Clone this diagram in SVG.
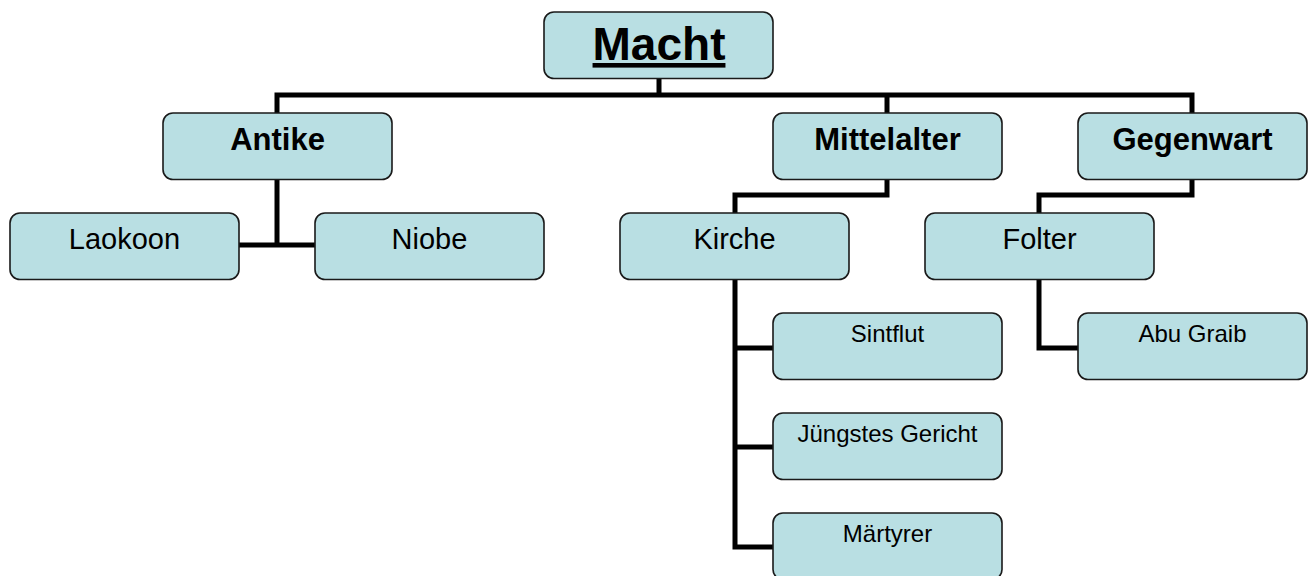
<svg xmlns="http://www.w3.org/2000/svg" width="1316" height="576" viewBox="0 0 1316 576">
<style>
  .box { fill: #B9DFE3; stroke: #1a1a1a; stroke-width: 1.6; }
  .t { font-family: "Liberation Sans", Arial, sans-serif; fill: #000; text-anchor: middle; }
  .t1 { font-size: 46px; font-weight: bold; text-decoration: underline; text-decoration-thickness: 5px; text-underline-offset: 5px; }
  .t2 { font-size: 31px; font-weight: bold; }
  .t3 { font-size: 29px; }
  .t4 { font-size: 24px; }
  .conn { fill: none; stroke: #000; stroke-width: 5; stroke-linejoin: miter; stroke-linecap: butt; }
</style>
<rect width="1316" height="576" fill="#ffffff"/>
<g id="connectors">
  <path class="conn" d="M659 78 V95"/>
  <path class="conn" d="M277 113 V95 H1192 V113"/>
  <path class="conn" d="M887 95 V113"/>
  <path class="conn" d="M277 179 V245"/>
  <path class="conn" d="M239 245 H315"/>
  <path class="conn" d="M887 179 V195 H735 V213"/>
  <path class="conn" d="M1192 179 V195 H1039 V213"/>
  <path class="conn" d="M735 279 V547 H773"/>
  <path class="conn" d="M735 348 H773"/>
  <path class="conn" d="M735 447 H773"/>
  <path class="conn" d="M1039 279 V348 H1078"/>
</g>
<g id="macht">
  <rect class="box" x="544" y="12" width="229" height="66.5" rx="10"/>
  <text class="t t1" x="659" y="60">Macht</text>
</g>
<g id="antike">
  <rect class="box" x="163" y="113" width="229" height="66.5" rx="10"/>
  <text class="t t2" x="277.5" y="150">Antike</text>
</g>
<g id="mittelalter">
  <rect class="box" x="773" y="113" width="229" height="66.5" rx="10"/>
  <text class="t t2" x="887.5" y="150">Mittelalter</text>
</g>
<g id="gegenwart">
  <rect class="box" x="1078" y="113" width="229" height="66.5" rx="10"/>
  <text class="t t2" x="1192.5" y="150">Gegenwart</text>
</g>
<g id="laokoon">
  <rect class="box" x="10" y="213" width="229" height="66.5" rx="10"/>
  <text class="t t3" x="124.5" y="248.5">Laokoon</text>
</g>
<g id="niobe">
  <rect class="box" x="315" y="213" width="229" height="66.5" rx="10"/>
  <text class="t t3" x="429.5" y="248.5">Niobe</text>
</g>
<g id="kirche">
  <rect class="box" x="620" y="213" width="229" height="66.5" rx="10"/>
  <text class="t t3" x="734.5" y="248.5">Kirche</text>
</g>
<g id="folter">
  <rect class="box" x="925" y="213" width="229" height="66.5" rx="10"/>
  <text class="t t3" x="1039.5" y="248.5">Folter</text>
</g>
<g id="sintflut">
  <rect class="box" x="773" y="313" width="229" height="66.5" rx="10"/>
  <text class="t t4" x="887.5" y="341.5">Sintflut</text>
</g>
<g id="juengstes-gericht">
  <rect class="box" x="773" y="413" width="229" height="66.5" rx="10"/>
  <text class="t t4" x="887.5" y="441.5">Jüngstes Gericht</text>
</g>
<g id="maertyrer">
  <rect class="box" x="773" y="513" width="229" height="66.5" rx="10"/>
  <text class="t t4" x="887.5" y="541.5">Märtyrer</text>
</g>
<g id="abu-graib">
  <rect class="box" x="1078" y="313" width="229" height="66.5" rx="10"/>
  <text class="t t4" x="1192.5" y="341.5">Abu Graib</text>
</g>
</svg>
